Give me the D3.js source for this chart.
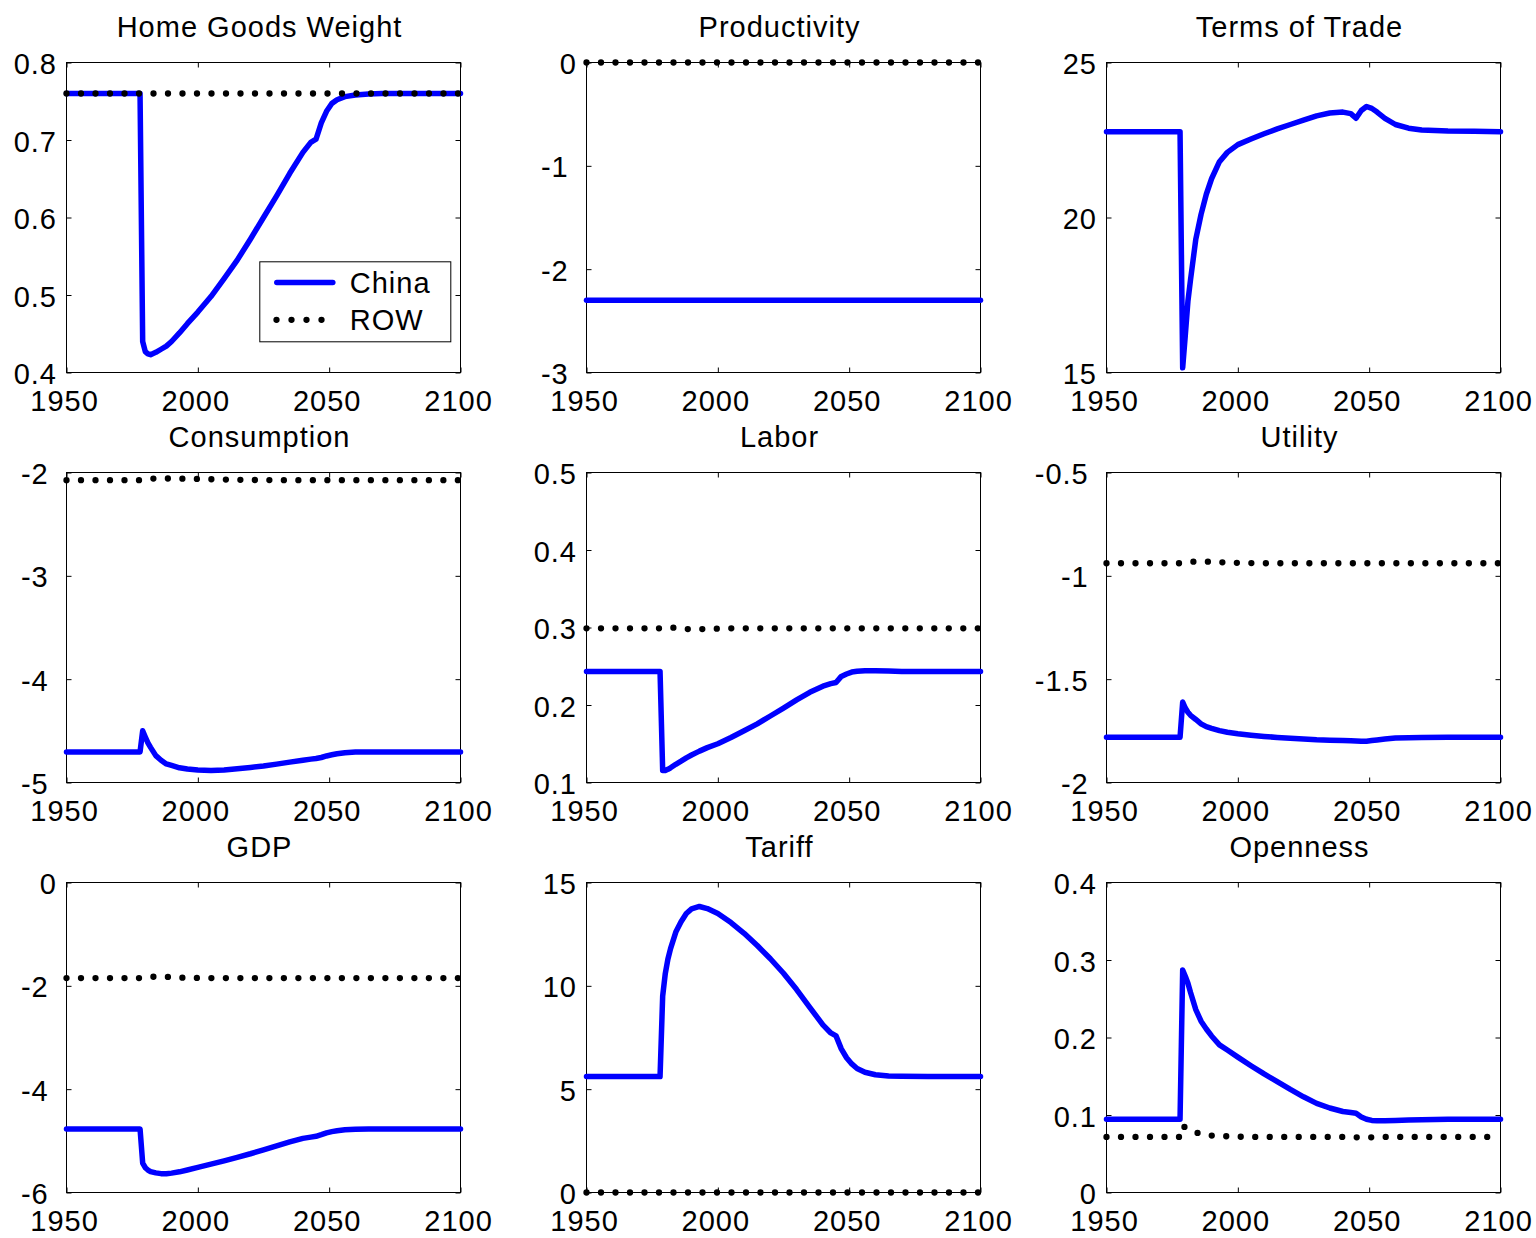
<!DOCTYPE html>
<html>
<head>
<meta charset="utf-8">
<script src="https://cdn.jsdelivr.net/npm/d3@7"></script>
<style>
  html, body { margin: 0; padding: 0; background: #fff; }
  svg { display: block; }
  text { font-family: "Liberation Sans", Arial, Helvetica, sans-serif; fill: #000; letter-spacing: 1px; }
</style>
</head>
<body>
<svg id="chart" width="1536" height="1238"></svg>
<script>
// Simulation years shared by every series
const years = [1950, 1978, 1979, 1980, 1981, 1982, 1984, 1986, 1988, 1990, 1993, 1996,
  2000, 2005, 2010, 2015, 2020, 2025, 2030, 2035, 2040, 2043, 2045, 2047, 2049,
  2051, 2053, 2056, 2060, 2065, 2070, 2080, 2090, 2100];

// Home goods weight
const homeChina = [0.760, 0.760, 0.440, 0.427, 0.424, 0.423, 0.426, 0.430, 0.434, 0.440, 0.451, 0.463,
  0.478, 0.498, 0.521, 0.545, 0.572, 0.600, 0.628, 0.657, 0.684, 0.697, 0.701, 0.722, 0.737,
  0.747, 0.752, 0.756, 0.758, 0.7595, 0.760, 0.760, 0.760, 0.760];
const homeROW = [0.760, 0.760, 0.760, 0.760, 0.760, 0.760, 0.760, 0.760, 0.760, 0.760, 0.760, 0.760,
  0.760, 0.760, 0.760, 0.760, 0.760, 0.760, 0.760, 0.760, 0.760, 0.760, 0.760, 0.760, 0.760,
  0.760, 0.760, 0.760, 0.760, 0.760, 0.760, 0.760, 0.760, 0.760];

// Productivity
const prodChina = [-2.3, -2.3, -2.3, -2.3, -2.3, -2.3, -2.3, -2.3, -2.3, -2.3, -2.3, -2.3,
  -2.3, -2.3, -2.3, -2.3, -2.3, -2.3, -2.3, -2.3, -2.3, -2.3, -2.3, -2.3, -2.3,
  -2.3, -2.3, -2.3, -2.3, -2.3, -2.3, -2.3, -2.3, -2.3];
const prodROW = [0, 0, 0, 0, 0, 0, 0, 0, 0, 0, 0, 0,
  0, 0, 0, 0, 0, 0, 0, 0, 0, 0, 0, 0, 0,
  0, 0, 0, 0, 0, 0, 0, 0, 0];

// Terms of trade
const totChina = [22.77, 22.77, 15.15, 16.2, 17.3, 18.0, 19.3, 20.1, 20.75, 21.25, 21.8, 22.1,
  22.35, 22.53, 22.7, 22.86, 23.0, 23.14, 23.28, 23.37, 23.40, 23.35, 23.2, 23.45, 23.58,
  23.52, 23.4, 23.2, 23.0, 22.88, 22.82, 22.79, 22.78, 22.77];

// Consumption
const consChina = [-4.704, -4.704, -4.50, -4.56, -4.617, -4.66, -4.74, -4.785, -4.82, -4.835, -4.858, -4.87,
  -4.879, -4.884, -4.878, -4.866, -4.854, -4.84, -4.822, -4.803, -4.784, -4.774, -4.768, -4.758, -4.743,
  -4.732, -4.722, -4.712, -4.706, -4.704, -4.704, -4.704, -4.704, -4.704];
const consROW = [-2.074, -2.074, -2.070, -2.066, -2.062, -2.059, -2.058, -2.058, -2.058, -2.058, -2.059, -2.060,
  -2.062, -2.065, -2.068, -2.070, -2.072, -2.073, -2.074, -2.074, -2.074, -2.074, -2.074, -2.074, -2.074,
  -2.074, -2.074, -2.074, -2.074, -2.074, -2.074, -2.074, -2.074, -2.074];

// Labor
const laborChina = [0.2433, 0.2433, 0.1155, 0.1155, 0.117, 0.119, 0.1235, 0.1275, 0.1318, 0.1355, 0.1405, 0.145,
  0.150, 0.158, 0.1667, 0.1757, 0.1858, 0.196, 0.2066, 0.2164, 0.2243, 0.2275, 0.229, 0.2369, 0.240,
  0.2425, 0.2435, 0.2442, 0.2442, 0.2438, 0.2433, 0.2433, 0.2433, 0.2433];
const laborROW = [0.299, 0.299, 0.300, 0.300, 0.300, 0.300, 0.2995, 0.299, 0.298, 0.298, 0.298, 0.298,
  0.2985, 0.299, 0.299, 0.299, 0.299, 0.299, 0.299, 0.299, 0.299, 0.299, 0.299, 0.299, 0.299,
  0.299, 0.299, 0.299, 0.299, 0.299, 0.299, 0.299, 0.299, 0.299];

// Utility
const utilChina = [-1.781, -1.781, -1.611, -1.64, -1.66, -1.675, -1.695, -1.716, -1.73, -1.738, -1.749, -1.757,
  -1.764, -1.771, -1.777, -1.782, -1.786, -1.789, -1.793, -1.795, -1.797, -1.798, -1.799, -1.800, -1.800,
  -1.797, -1.794, -1.790, -1.785, -1.783, -1.782, -1.781, -1.781, -1.781];
const utilROW = [-0.939, -0.939, -0.937, -0.935, -0.933, -0.932, -0.931, -0.931, -0.931, -0.932, -0.934, -0.936,
  -0.937, -0.938, -0.939, -0.939, -0.939, -0.939, -0.939, -0.939, -0.939, -0.939, -0.939, -0.939, -0.939,
  -0.939, -0.939, -0.939, -0.939, -0.939, -0.939, -0.939, -0.939, -0.939];

// GDP
const gdpChina = [-4.769, -4.769, -5.43, -5.52, -5.565, -5.595, -5.62, -5.635, -5.639, -5.625, -5.60, -5.565,
  -5.514, -5.452, -5.387, -5.32, -5.25, -5.173, -5.097, -5.02, -4.952, -4.928, -4.912, -4.88, -4.845,
  -4.822, -4.805, -4.787, -4.775, -4.770, -4.769, -4.769, -4.769, -4.769];
const gdpROW = [-1.850, -1.850, -1.842, -1.835, -1.828, -1.824, -1.824, -1.824, -1.826, -1.832, -1.840, -1.845,
  -1.848, -1.850, -1.850, -1.850, -1.850, -1.850, -1.850, -1.850, -1.850, -1.850, -1.850, -1.850, -1.850,
  -1.850, -1.850, -1.850, -1.850, -1.850, -1.850, -1.850, -1.850, -1.850];

// Tariff
const tariffChina = [5.607, 5.607, 9.5, 10.6, 11.3, 11.8, 12.6, 13.1, 13.5, 13.72, 13.84, 13.74,
  13.5, 13.06, 12.54, 11.95, 11.31, 10.61, 9.82, 8.96, 8.11, 7.72, 7.58, 6.95, 6.52,
  6.22, 6.0, 5.82, 5.7, 5.64, 5.62, 5.607, 5.607, 5.607];
const tariffROW = [0, 0, 0, 0, 0, 0, 0, 0, 0, 0, 0, 0,
  0, 0, 0, 0, 0, 0, 0, 0, 0, 0, 0, 0, 0,
  0, 0, 0, 0, 0, 0, 0, 0, 0];

// Openness
const openChina = [0.0945, 0.0945, 0.287, 0.279, 0.270, 0.258, 0.236, 0.221, 0.211, 0.202, 0.1905, 0.1838,
  0.1747, 0.1636, 0.153, 0.143, 0.133, 0.1235, 0.115, 0.109, 0.1045, 0.1032, 0.1023, 0.0975, 0.0945,
  0.093, 0.0925, 0.0925, 0.093, 0.0935, 0.094, 0.0945, 0.0945, 0.0945];
const openROW = [0.0717, 0.0717, 0.086, 0.084, 0.082, 0.080, 0.0775, 0.0755, 0.074, 0.0735, 0.073, 0.0725,
  0.072, 0.0717, 0.0717, 0.0717, 0.0717, 0.0717, 0.0717, 0.0717, 0.0717, 0.0715, 0.0712, 0.0710, 0.0710,
  0.0712, 0.0715, 0.0717, 0.0717, 0.0717, 0.0717, 0.0717, 0.0717, 0.0717];

// Axis ticks
const yearTicks = [1950, 2000, 2050, 2100];
const homeTicks = [0.4, 0.5, 0.6, 0.7, 0.8];
const prodTicks = [-3, -2, -1, 0];
const totTicks = [15, 20, 25];
const consTicks = [-5, -4, -3, -2];
const laborTicks = [0.1, 0.2, 0.3, 0.4, 0.5];
const utilTicks = [-2, -1.5, -1, -0.5];
const gdpTicks = [-6, -4, -2, 0];
const tariffTicks = [0, 5, 10, 15];
const openTicks = [0, 0.1, 0.2, 0.3, 0.4];

const titles = ["Home Goods Weight", "Productivity", "Terms of Trade",
  "Consumption", "Labor", "Utility", "GDP", "Tariff", "Openness"];
const seriesNames = ["China", "ROW"];

const panels = [
  { china: homeChina, row: homeROW, ticks: homeTicks },
  { china: prodChina, row: prodROW, ticks: prodTicks },
  { china: totChina, row: null, ticks: totTicks },
  { china: consChina, row: consROW, ticks: consTicks },
  { china: laborChina, row: laborROW, ticks: laborTicks },
  { china: utilChina, row: utilROW, ticks: utilTicks },
  { china: gdpChina, row: gdpROW, ticks: gdpTicks },
  { china: tariffChina, row: tariffROW, ticks: tariffTicks },
  { china: openChina, row: openROW, ticks: openTicks }
];

// Layout of the 3x3 grid
const colX = [66.5, 586.5, 1106.5];
const rowY = [62.5, 472.5, 882.5];
const W = 394, H = 310;
const FONT = 29;
const BLUE = "#0000ff";
const DOT = 6.3;

const svg = d3.select("#chart");
svg.append("rect").attr("width", 1536).attr("height", 1238).attr("fill", "#fff");

const fmt = d => d3.format("~g")(d).replace("\u2212", "-");

panels.forEach((p, i) => {
  const x0 = colX[i % 3], y0 = rowY[Math.floor(i / 3)];
  const g = svg.append("g").attr("transform", `translate(${x0},${y0})`);

  const x = d3.scaleLinear().domain([1950, 2100]).range([0, W]);
  const y = d3.scaleLinear().domain(d3.extent(p.ticks)).range([H, 0]);

  // inward ticks on all four sides
  const axB = g.append("g").attr("transform", `translate(0,${H})`)
    .call(d3.axisBottom(x).tickValues(yearTicks).tickFormat(d3.format("d"))
      .tickSize(-5).tickSizeOuter(0).tickPadding(18));
  const axT = g.append("g")
    .call(d3.axisTop(x).tickValues(yearTicks).tickFormat("").tickSize(-5).tickSizeOuter(0));
  const axL = g.append("g")
    .call(d3.axisLeft(y).tickValues(p.ticks).tickFormat(fmt)
      .tickSize(-5).tickSizeOuter(0).tickPadding(10.5));
  const axR = g.append("g").attr("transform", `translate(${W},0)`)
    .call(d3.axisRight(y).tickValues(p.ticks).tickFormat("").tickSize(-5).tickSizeOuter(0));

  [axB, axT, axL, axR].forEach(a => {
    a.select(".domain").remove();
    a.selectAll("line").attr("stroke", "#000").attr("stroke-width", 1);
    a.attr("font-size", null).attr("font-family", null);
    a.selectAll("text").style("font-size", FONT + "px").attr("fill", "#000");
  });
  axL.selectAll("text").attr("dy", "0.38em")
    .attr("x", d => d < 0 ? -17.8 : -9.5);
  axB.selectAll("text").attr("dx", -2.5);

  // plot frame
  g.append("rect").attr("width", W).attr("height", H)
    .attr("fill", "none").attr("stroke", "#000").attr("stroke-width", 1);

  // title
  g.append("text").attr("x", W / 2 - 4).attr("y", -25.2)
    .attr("text-anchor", "middle").style("font-size", FONT + "px")
    .text(titles[i]);

  const line = d3.line().x((d, k) => x(years[k])).y(d => y(d));

  g.append("path").datum(p.china).attr("d", line)
    .attr("fill", "none").attr("stroke", BLUE).attr("stroke-width", 5.5)
    .attr("stroke-linejoin", "round").attr("stroke-linecap", "round");

  if (p.row) {
    g.append("path").datum(p.row).attr("d", line)
      .attr("fill", "none").attr("stroke", "#000").attr("stroke-width", DOT)
      .attr("stroke-dasharray", "0 14.5").attr("stroke-linecap", "round");
  }

  // legend in the first panel
  if (i === 0) {
    const lw = 191, lh = 80;
    const lg = g.append("g").attr("transform", `translate(${W - 9.7 - lw},${H - 30.7 - lh})`);
    lg.append("rect").attr("width", lw).attr("height", lh)
      .attr("fill", "#fff").attr("stroke", "#000").attr("stroke-width", 1);
    lg.append("line").attr("x1", 17).attr("x2", 73).attr("y1", 20.7).attr("y2", 20.7)
      .attr("stroke", BLUE).attr("stroke-width", 5.5).attr("stroke-linecap", "round");
    lg.append("line").attr("x1", 16.7).attr("x2", 62).attr("y1", 58).attr("y2", 58)
      .attr("stroke", "#000").attr("stroke-width", DOT)
      .attr("stroke-dasharray", "0 15").attr("stroke-linecap", "round");
    lg.append("text").attr("x", 90).attr("y", 31).style("font-size", FONT + "px").text(seriesNames[0]);
    lg.append("text").attr("x", 90).attr("y", 68).style("font-size", FONT + "px").text(seriesNames[1]);
  }
});
</script>
</body>
</html>
